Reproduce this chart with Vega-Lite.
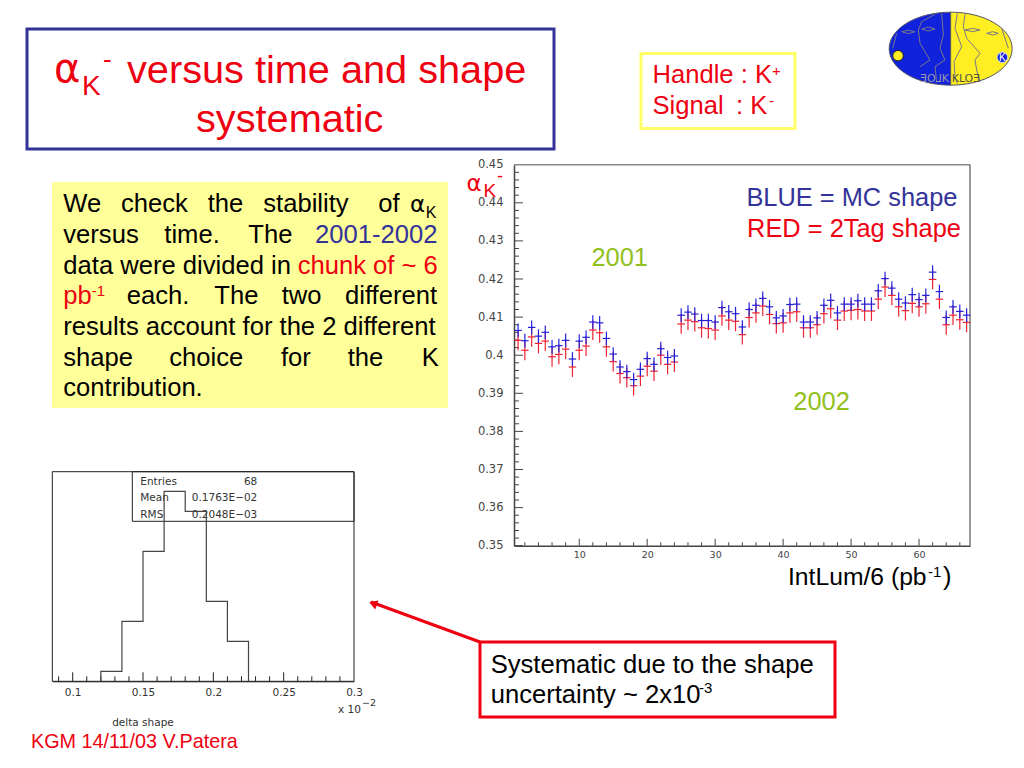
{
"$schema":"https://vega.github.io/schema/vega-lite/v6.json",
"width":1024,"height":768,"padding":0,"autosize":{"type":"none"},"background":"white",
"config":{"view":{"stroke":null},"text":{"font":"Liberation Sans","align":"left","baseline":"alphabetic"}},
"resolve":{"scale":{"x":"independent","y":"independent"},"axis":{"x":"independent","y":"independent"}},
"layer":[
{"encoding":{
 "x":{"field":"sx","type":"quantitative","scale":{"domain":[0,1024],"range":[0,1024],"nice":false,"zero":false},"axis":null},
 "y":{"field":"sy","type":"quantitative","scale":{"domain":[0,768],"range":[0,768],"nice":false,"zero":false},"axis":null}},
 "layer":[
 {"data":{"values":[{"sx":27,"sy":29,"ex":554,"ey":149}]},"mark":{"type":"rect","fill":"white","stroke":"#333399","strokeWidth":3},"encoding":{"x2":{"field":"ex"},"y2":{"field":"ey"}}},
 {"data":{"values":[{"sx":641,"sy":53.5,"ex":795,"ey":128.5}]},"mark":{"type":"rect","fill":"white","stroke":"#FFFF66","strokeWidth":3},"encoding":{"x2":{"field":"ex"},"y2":{"field":"ey"}}},
 {"data":{"values":[{"sx":52,"sy":182,"ex":448,"ey":408}]},"mark":{"type":"rect","fill":"#FFFF99"},"encoding":{"x2":{"field":"ex"},"y2":{"field":"ey"}}},
 {"data":{"values":[{"sx":480,"sy":642,"ex":835,"ey":717}]},"mark":{"type":"rect","fill":"white","stroke":"#EE0011","strokeWidth":3},"encoding":{"x2":{"field":"ex"},"y2":{"field":"ey"}}},
 {"data":{"values":[{"sx":52.3,"sy":471.7,"ex":354,"ey":681.3},{"sx":132.3,"sy":471.7,"ex":354,"ey":521.3}]},"mark":{"type":"rect","fill":null,"stroke":"#222","strokeWidth":1},"encoding":{"x2":{"field":"ex"},"y2":{"field":"ey"}}},
 {"data":{"values":[{"sx":514,"sy":164.7,"ex":970,"ey":164.7}]},"mark":{"type":"rule","stroke":"#888","strokeWidth":1.5},"encoding":{"x2":{"field":"ex"},"y2":{"field":"ey"}}},
 {"data":{"values":[{"sx":970,"sy":164.7,"ex":970,"ey":545.7}]},"mark":{"type":"rule","stroke":"#333","strokeWidth":1},"encoding":{"x2":{"field":"ex"},"y2":{"field":"ey"}}},
 {"data":{"values":[{"sx":480,"sy":642,"ex":371,"ey":602}]},"mark":{"type":"rule","stroke":"#EE0011","strokeWidth":3},"encoding":{"x2":{"field":"ex"},"y2":{"field":"ey"}}},
 {"data":{"values":[{"sx":373,"sy":603.5}]},"mark":{"type":"point","shape":"triangle-up","filled":true,"fill":"#EE0011","opacity":1,"size":90,"angle":291}},
 {"data":{"values":[{"label":"versus time and shape","sx":127,"sy":83},{"label":"systematic","sx":196,"sy":132}]},"mark":{"type":"text","fontSize":39.7,"fill":"#EE0011"},"encoding":{"text":{"field":"label"}}},
 {"data":{"values":[{"label":"α","sx":54,"sy":82}]},"mark":{"type":"text","font":"DejaVu Sans","fontSize":40,"fill":"#EE0011"},"encoding":{"text":{"field":"label"}}},
 {"data":{"values":[{"label":"K","sx":82,"sy":95}]},"mark":{"type":"text","fontSize":28,"fill":"#EE0011"},"encoding":{"text":{"field":"label"}}},
 {"data":{"values":[{"label":"-","sx":103,"sy":68}]},"mark":{"type":"text","fontSize":26,"fill":"#EE0011"},"encoding":{"text":{"field":"label"}}},
 {"data":{"values":[
  {"label":"Handle : K","sx":652.5,"sy":83.3},{"label":"Signal","sx":652.5,"sy":114},{"label":": K","sx":736,"sy":114},
  {"label":"chunk of ~ 6","sx":297.7,"sy":273.7},{"label":"pb","sx":63.3,"sy":304.3}]},"mark":{"type":"text","fontSize":25.6,"fill":"#EE0011"},"encoding":{"text":{"field":"label"}}},
 {"data":{"values":[{"label":"+","sx":772,"sy":76},{"label":"-","sx":769,"sy":106},{"label":"-1","sx":91.7,"sy":296}]},"mark":{"type":"text","fontSize":15,"fill":"#EE0011"},"encoding":{"text":{"field":"label"}}},
 {"data":{"values":[
  {"label":"We","sx":63.3,"sy":212.3},{"label":"check","sx":121,"sy":212.3},{"label":"the","sx":207.7,"sy":212.3},{"label":"stability","sx":263.3,"sy":212.3},{"label":"of","sx":378.3,"sy":212.3},
  {"label":"versus","sx":63.3,"sy":243},{"label":"time.","sx":164.3,"sy":243},{"label":"The","sx":248.3,"sy":243},
  {"label":"data were divided in","sx":63.3,"sy":273.7},
  {"label":"each.","sx":126.7,"sy":304.3},{"label":"The","sx":214.3,"sy":304.3},{"label":"two","sx":281.7,"sy":304.3},{"label":"different","sx":345,"sy":304.3},
  {"label":"results account for the 2 different","sx":63.3,"sy":335},
  {"label":"shape","sx":63.3,"sy":365.7},{"label":"choice","sx":169.3,"sy":365.7},{"label":"for","sx":281,"sy":365.7},{"label":"the","sx":347.7,"sy":365.7},{"label":"K","sx":421.7,"sy":365.7},
  {"label":"contribution.","sx":63.3,"sy":396.3},
  {"label":"Systematic due to the shape","sx":490.7,"sy":672.7},{"label":"uncertainty ~ 2x10","sx":490.7,"sy":703.3},
  {"label":")","sx":943,"sy":585}]},"mark":{"type":"text","fontSize":25.6,"fill":"#000"},"encoding":{"text":{"field":"label"}}},
 {"data":{"values":[{"label":"IntLum/6 (pb","sx":788,"sy":585}]},"mark":{"type":"text","fontSize":24.7,"fill":"#000"},"encoding":{"text":{"field":"label"}}},
 {"data":{"values":[{"label":"-3","sx":699,"sy":693},{"label":"-1","sx":928,"sy":577}]},"mark":{"type":"text","fontSize":15,"fill":"#000"},"encoding":{"text":{"field":"label"}}},
 {"data":{"values":[{"label":"α","sx":410,"sy":212.3}]},"mark":{"type":"text","font":"DejaVu Sans","fontSize":23,"fill":"#000"},"encoding":{"text":{"field":"label"}}},
 {"data":{"values":[{"label":"K","sx":425.7,"sy":218}]},"mark":{"type":"text","fontSize":16,"fill":"#000"},"encoding":{"text":{"field":"label"}}},
 {"data":{"values":[{"label":"2001-2002","sx":315,"sy":243}]},"mark":{"type":"text","fontSize":25.6,"fill":"#333399"},"encoding":{"text":{"field":"label"}}},
 {"data":{"values":[{"label":"α","sx":466.5,"sy":190.7}]},"mark":{"type":"text","font":"DejaVu Sans","fontSize":23,"fill":"#EE0011"},"encoding":{"text":{"field":"label"}}},
 {"data":{"values":[{"label":"K","sx":483.5,"sy":197}]},"mark":{"type":"text","fontSize":19,"fill":"#EE0011"},"encoding":{"text":{"field":"label"}}},
 {"data":{"values":[{"label":"-","sx":497,"sy":182}]},"mark":{"type":"text","fontSize":18,"fill":"#EE0011"},"encoding":{"text":{"field":"label"}}},
 {"data":{"values":[{"label":"KGM 14/11/03 V.Patera","sx":31,"sy":748}]},"mark":{"type":"text","fontSize":19.8,"fill":"#EE0011"},"encoding":{"text":{"field":"label"}}},
 {"data":{"values":[{"label":"Entries","sx":140.3,"sy":485},{"label":"Mean","sx":140.3,"sy":501},{"label":"RMS","sx":140.3,"sy":518},{"label":"x 10","sx":338,"sy":713}]},"mark":{"type":"text","font":"DejaVu Sans","fontSize":10.5,"fill":"#333"},"encoding":{"text":{"field":"label"}}},
 {"data":{"values":[{"label":"−2","sx":362,"sy":706}]},"mark":{"type":"text","font":"DejaVu Sans","fontSize":9.5,"fill":"#333"},"encoding":{"text":{"field":"label"}}},
 {"data":{"values":[{"label":"68","sx":257.3,"sy":485},{"label":"0.1763E−02","sx":257.3,"sy":501},{"label":"0.2048E−03","sx":257.3,"sy":518}]},"mark":{"type":"text","font":"DejaVu Sans","fontSize":10.5,"fill":"#333","align":"right"},"encoding":{"text":{"field":"label"}}},
 {"data":{"values":[{"label":"delta shape","sx":143,"sy":726}]},"mark":{"type":"text","font":"DejaVu Sans","fontSize":10.5,"fill":"#333","align":"center"},"encoding":{"text":{"field":"label"}}}
 ]},
{"encoding":{
 "x":{"field":"edge","type":"quantitative","sort":null,"scale":{"domain":[0.0855,0.3],"range":[52.3,354],"nice":false,"zero":false},
  "axis":{"orient":"bottom","offset":-86.7,"title":null,"grid":false,"ticks":false,"values":[0.1,0.15,0.2,0.25,0.3],"domainColor":"#222",
   "format":".2~f","labelFont":"DejaVu Sans","labelFontSize":10.5,"labelColor":"#333","labelPadding":6,"labelFlush":false,"labelOverlap":false}},
 "y":{"field":"count","type":"quantitative","scale":{"domain":[0,20.96],"range":[681.3,471.7],"nice":false,"zero":false},"axis":null}},
 "layer":[
 {"data":{"values":[{"edge":0.09,"count":0,"top":0.5},{"edge":0.1,"count":0,"top":0.9},{"edge":0.11,"count":0,"top":0.5},{"edge":0.12,"count":0,"top":0.5},{"edge":0.13,"count":0,"top":0.5},{"edge":0.14,"count":0,"top":0.5},{"edge":0.15,"count":0,"top":0.9},{"edge":0.16,"count":0,"top":0.5},{"edge":0.17,"count":0,"top":0.5},{"edge":0.18,"count":0,"top":0.5},{"edge":0.19,"count":0,"top":0.5},{"edge":0.2,"count":0,"top":0.9},{"edge":0.21,"count":0,"top":0.5},{"edge":0.22,"count":0,"top":0.5},{"edge":0.23,"count":0,"top":0.5},{"edge":0.24,"count":0,"top":0.5},{"edge":0.25,"count":0,"top":0.9},{"edge":0.26,"count":0,"top":0.5},{"edge":0.27,"count":0,"top":0.5},{"edge":0.28,"count":0,"top":0.5},{"edge":0.29,"count":0,"top":0.5}]},
  "mark":{"type":"rule","stroke":"#222","strokeWidth":1},"encoding":{"y2":{"field":"top"}}},
 {"data":{"values":[{"edge":0.12,"count":0},{"edge":0.12,"count":1},{"edge":0.135,"count":6},{"edge":0.15,"count":13},{"edge":0.165,"count":19},{"edge":0.18,"count":17},{"edge":0.195,"count":8},{"edge":0.21,"count":4},{"edge":0.225,"count":0}]},
 "mark":{"type":"line","interpolate":"step-after","stroke":"#444","strokeWidth":1.2}}
 ]},
{"data":{"name":"alpha","values":[
{"bin":1,"shape":"MC","alpha":0.4065,"err":0.0018},{"bin":2,"shape":"MC","alpha":0.4038,"err":0.0018},{"bin":3,"shape":"MC","alpha":0.4073,"err":0.0018},{"bin":4,"shape":"MC","alpha":0.405,"err":0.0018},{"bin":5,"shape":"MC","alpha":0.406,"err":0.0018},{"bin":6,"shape":"MC","alpha":0.4022,"err":0.0018},{"bin":7,"shape":"MC","alpha":0.4025,"err":0.0018},{"bin":8,"shape":"MC","alpha":0.4039,"err":0.0018},{"bin":9,"shape":"MC","alpha":0.399,"err":0.0018},{"bin":10,"shape":"MC","alpha":0.4037,"err":0.0018},
{"bin":11,"shape":"MC","alpha":0.4047,"err":0.0018},{"bin":12,"shape":"MC","alpha":0.4087,"err":0.0018},{"bin":13,"shape":"MC","alpha":0.4085,"err":0.0018},{"bin":14,"shape":"MC","alpha":0.4044,"err":0.0018},{"bin":15,"shape":"MC","alpha":0.4003,"err":0.0018},{"bin":16,"shape":"MC","alpha":0.3969,"err":0.0018},{"bin":17,"shape":"MC","alpha":0.3957,"err":0.0018},{"bin":18,"shape":"MC","alpha":0.3936,"err":0.0018},{"bin":19,"shape":"MC","alpha":0.3963,"err":0.0018},{"bin":20,"shape":"MC","alpha":0.3991,"err":0.0018},
{"bin":21,"shape":"MC","alpha":0.3976,"err":0.0018},{"bin":22,"shape":"MC","alpha":0.4017,"err":0.0018},{"bin":23,"shape":"MC","alpha":0.3994,"err":0.0018},{"bin":24,"shape":"MC","alpha":0.3998,"err":0.0018},{"bin":25,"shape":"MC","alpha":0.4105,"err":0.0018},{"bin":26,"shape":"MC","alpha":0.4113,"err":0.0018},{"bin":27,"shape":"MC","alpha":0.4108,"err":0.0018},{"bin":28,"shape":"MC","alpha":0.4091,"err":0.0018},{"bin":29,"shape":"MC","alpha":0.4091,"err":0.0018},{"bin":30,"shape":"MC","alpha":0.4087,"err":0.0018},
{"bin":31,"shape":"MC","alpha":0.4125,"err":0.0018},{"bin":32,"shape":"MC","alpha":0.4114,"err":0.0018},{"bin":33,"shape":"MC","alpha":0.4109,"err":0.0018},{"bin":34,"shape":"MC","alpha":0.4074,"err":0.0018},{"bin":35,"shape":"MC","alpha":0.412,"err":0.0018},{"bin":36,"shape":"MC","alpha":0.4131,"err":0.0018},{"bin":37,"shape":"MC","alpha":0.4149,"err":0.0018},{"bin":38,"shape":"MC","alpha":0.4127,"err":0.0018},{"bin":39,"shape":"MC","alpha":0.4098,"err":0.0018},{"bin":40,"shape":"MC","alpha":0.4103,"err":0.0018},
{"bin":41,"shape":"MC","alpha":0.4133,"err":0.0018},{"bin":42,"shape":"MC","alpha":0.4134,"err":0.0018},{"bin":43,"shape":"MC","alpha":0.4087,"err":0.0018},{"bin":44,"shape":"MC","alpha":0.4087,"err":0.0018},{"bin":45,"shape":"MC","alpha":0.4098,"err":0.0018},{"bin":46,"shape":"MC","alpha":0.4131,"err":0.0018},{"bin":47,"shape":"MC","alpha":0.4144,"err":0.0018},{"bin":48,"shape":"MC","alpha":0.4111,"err":0.0018},{"bin":49,"shape":"MC","alpha":0.4134,"err":0.0018},{"bin":50,"shape":"MC","alpha":0.4134,"err":0.0018},
{"bin":51,"shape":"MC","alpha":0.4143,"err":0.0018},{"bin":52,"shape":"MC","alpha":0.4134,"err":0.0018},{"bin":53,"shape":"MC","alpha":0.4134,"err":0.0018},{"bin":54,"shape":"MC","alpha":0.4169,"err":0.0018},{"bin":55,"shape":"MC","alpha":0.4201,"err":0.0018},{"bin":56,"shape":"MC","alpha":0.4176,"err":0.0018},{"bin":57,"shape":"MC","alpha":0.4147,"err":0.0018},{"bin":58,"shape":"MC","alpha":0.4137,"err":0.0018},{"bin":59,"shape":"MC","alpha":0.4159,"err":0.0018},{"bin":60,"shape":"MC","alpha":0.4146,"err":0.0018},
{"bin":61,"shape":"MC","alpha":0.4157,"err":0.0018},{"bin":62,"shape":"MC","alpha":0.4218,"err":0.0018},{"bin":63,"shape":"MC","alpha":0.4167,"err":0.0018},{"bin":64,"shape":"MC","alpha":0.4099,"err":0.0018},{"bin":65,"shape":"MC","alpha":0.4127,"err":0.0018},{"bin":66,"shape":"MC","alpha":0.4115,"err":0.0018},{"bin":67,"shape":"MC","alpha":0.4105,"err":0.0018},
{"bin":1,"shape":"2Tag","alpha":0.4039,"err":0.0026},{"bin":2,"shape":"2Tag","alpha":0.4013,"err":0.0026},{"bin":3,"shape":"2Tag","alpha":0.4048,"err":0.0026},{"bin":4,"shape":"2Tag","alpha":0.4031,"err":0.0026},{"bin":5,"shape":"2Tag","alpha":0.4037,"err":0.0026},{"bin":6,"shape":"2Tag","alpha":0.3996,"err":0.0026},{"bin":7,"shape":"2Tag","alpha":0.4002,"err":0.0026},{"bin":8,"shape":"2Tag","alpha":0.4016,"err":0.0026},{"bin":9,"shape":"2Tag","alpha":0.3969,"err":0.0026},{"bin":10,"shape":"2Tag","alpha":0.4013,"err":0.0026},
{"bin":11,"shape":"2Tag","alpha":0.4024,"err":0.0026},{"bin":12,"shape":"2Tag","alpha":0.4066,"err":0.0026},{"bin":13,"shape":"2Tag","alpha":0.4059,"err":0.0026},{"bin":14,"shape":"2Tag","alpha":0.4022,"err":0.0026},{"bin":15,"shape":"2Tag","alpha":0.3983,"err":0.0026},{"bin":16,"shape":"2Tag","alpha":0.3952,"err":0.0026},{"bin":17,"shape":"2Tag","alpha":0.3941,"err":0.0026},{"bin":18,"shape":"2Tag","alpha":0.392,"err":0.0026},{"bin":19,"shape":"2Tag","alpha":0.3945,"err":0.0026},{"bin":20,"shape":"2Tag","alpha":0.3971,"err":0.0026},
{"bin":21,"shape":"2Tag","alpha":0.3958,"err":0.0026},{"bin":22,"shape":"2Tag","alpha":0.4,"err":0.0026},{"bin":23,"shape":"2Tag","alpha":0.3976,"err":0.0026},{"bin":24,"shape":"2Tag","alpha":0.3982,"err":0.0026},{"bin":25,"shape":"2Tag","alpha":0.4082,"err":0.0026},{"bin":26,"shape":"2Tag","alpha":0.4092,"err":0.0026},{"bin":27,"shape":"2Tag","alpha":0.4088,"err":0.0026},{"bin":28,"shape":"2Tag","alpha":0.4072,"err":0.0026},{"bin":29,"shape":"2Tag","alpha":0.407,"err":0.0026},{"bin":30,"shape":"2Tag","alpha":0.4066,"err":0.0026},
{"bin":31,"shape":"2Tag","alpha":0.4103,"err":0.0026},{"bin":32,"shape":"2Tag","alpha":0.4092,"err":0.0026},{"bin":33,"shape":"2Tag","alpha":0.4089,"err":0.0026},{"bin":34,"shape":"2Tag","alpha":0.4054,"err":0.0026},{"bin":35,"shape":"2Tag","alpha":0.4099,"err":0.0026},{"bin":36,"shape":"2Tag","alpha":0.4111,"err":0.0026},{"bin":37,"shape":"2Tag","alpha":0.4129,"err":0.0026},{"bin":38,"shape":"2Tag","alpha":0.4107,"err":0.0026},{"bin":39,"shape":"2Tag","alpha":0.4083,"err":0.0026},{"bin":40,"shape":"2Tag","alpha":0.4085,"err":0.0026},
{"bin":41,"shape":"2Tag","alpha":0.4111,"err":0.0026},{"bin":42,"shape":"2Tag","alpha":0.4114,"err":0.0026},{"bin":43,"shape":"2Tag","alpha":0.4072,"err":0.0026},{"bin":44,"shape":"2Tag","alpha":0.4072,"err":0.0026},{"bin":45,"shape":"2Tag","alpha":0.408,"err":0.0026},{"bin":46,"shape":"2Tag","alpha":0.4109,"err":0.0026},{"bin":47,"shape":"2Tag","alpha":0.4122,"err":0.0026},{"bin":48,"shape":"2Tag","alpha":0.4092,"err":0.0026},{"bin":49,"shape":"2Tag","alpha":0.4116,"err":0.0026},{"bin":50,"shape":"2Tag","alpha":0.4118,"err":0.0026},
{"bin":51,"shape":"2Tag","alpha":0.412,"err":0.0026},{"bin":52,"shape":"2Tag","alpha":0.4116,"err":0.0026},{"bin":53,"shape":"2Tag","alpha":0.4116,"err":0.0026},{"bin":54,"shape":"2Tag","alpha":0.4147,"err":0.0026},{"bin":55,"shape":"2Tag","alpha":0.4179,"err":0.0026},{"bin":56,"shape":"2Tag","alpha":0.4157,"err":0.0026},{"bin":57,"shape":"2Tag","alpha":0.4127,"err":0.0026},{"bin":58,"shape":"2Tag","alpha":0.4117,"err":0.0026},{"bin":59,"shape":"2Tag","alpha":0.4136,"err":0.0026},{"bin":60,"shape":"2Tag","alpha":0.4127,"err":0.0026},
{"bin":61,"shape":"2Tag","alpha":0.4135,"err":0.0026},{"bin":62,"shape":"2Tag","alpha":0.4199,"err":0.0026},{"bin":63,"shape":"2Tag","alpha":0.4147,"err":0.0026},{"bin":64,"shape":"2Tag","alpha":0.408,"err":0.0026},{"bin":65,"shape":"2Tag","alpha":0.4105,"err":0.0026},{"bin":66,"shape":"2Tag","alpha":0.4093,"err":0.0026},{"bin":67,"shape":"2Tag","alpha":0.4086,"err":0.0026}
]},
 "encoding":{
 "x":{"field":"bin","type":"quantitative","title":null,"scale":{"domain":[0.4,67.5],"range":[514,970],"nice":false,"zero":false},
  "axis":{"orient":"bottom","offset":-222.3,"title":null,"grid":false,"ticks":false,"values":[10,20,30,40,50,60],
   "domainColor":"#444","domainWidth":1.5,
   "format":"d","labelFont":"DejaVu Sans","labelFontSize":9.5,"labelColor":"#444","labelPadding":4,"labelFlush":false,"labelOverlap":false}},
 "y":{"field":"alpha","type":"quantitative","title":null,"scale":{"domain":[0.35,0.45],"range":[545.7,164.7],"nice":false,"zero":false},
  "axis":{"orient":"left","offset":-514,"title":null,"grid":false,"ticks":false,"values":[0.35,0.36,0.37,0.38,0.39,0.4,0.41,0.42,0.43,0.44,0.45],
   "domainColor":"#444","domainWidth":1.5,
   "format":".2~f","labelFont":"DejaVu Sans","labelFontSize":11.5,"labelColor":"#444","labelPadding":11,"labelFlush":false,"labelOverlap":false}},
 "color":{"field":"shape","type":"nominal","legend":null,"scale":{"domain":["MC","2Tag"],"range":["#2222DD","#EE2233"]}}},
 "layer":[
 {"data":{"values":[{"bin":2,"alpha":0.35,"top":0.3509},{"bin":4,"alpha":0.35,"top":0.3509},{"bin":6,"alpha":0.35,"top":0.3509},{"bin":8,"alpha":0.35,"top":0.3509},{"bin":10,"alpha":0.35,"top":0.3518},{"bin":12,"alpha":0.35,"top":0.3509},{"bin":14,"alpha":0.35,"top":0.3509},{"bin":16,"alpha":0.35,"top":0.3509},{"bin":18,"alpha":0.35,"top":0.3509},{"bin":20,"alpha":0.35,"top":0.3518},{"bin":22,"alpha":0.35,"top":0.3509},{"bin":24,"alpha":0.35,"top":0.3509},{"bin":26,"alpha":0.35,"top":0.3509},{"bin":28,"alpha":0.35,"top":0.3509},{"bin":30,"alpha":0.35,"top":0.3518},{"bin":32,"alpha":0.35,"top":0.3509},{"bin":34,"alpha":0.35,"top":0.3509},{"bin":36,"alpha":0.35,"top":0.3509},{"bin":38,"alpha":0.35,"top":0.3509},{"bin":40,"alpha":0.35,"top":0.3518},{"bin":42,"alpha":0.35,"top":0.3509},{"bin":44,"alpha":0.35,"top":0.3509},{"bin":46,"alpha":0.35,"top":0.3509},{"bin":48,"alpha":0.35,"top":0.3509},{"bin":50,"alpha":0.35,"top":0.3518},{"bin":52,"alpha":0.35,"top":0.3509},{"bin":54,"alpha":0.35,"top":0.3509},{"bin":56,"alpha":0.35,"top":0.3509},{"bin":58,"alpha":0.35,"top":0.3509},{"bin":60,"alpha":0.35,"top":0.3518},{"bin":62,"alpha":0.35,"top":0.3509},{"bin":64,"alpha":0.35,"top":0.3509},{"bin":66,"alpha":0.35,"top":0.3509}]},
  "mark":{"type":"rule","strokeWidth":1},"encoding":{"y2":{"field":"top"},"color":{"value":"#444"}}},
 {"data":{"values":[{"alpha":0.35,"bin":0.4,"end":1.72},{"alpha":0.352,"bin":0.4,"end":1.14},{"alpha":0.354,"bin":0.4,"end":1.14},{"alpha":0.356,"bin":0.4,"end":1.14},{"alpha":0.358,"bin":0.4,"end":1.14},{"alpha":0.36,"bin":0.4,"end":1.72},{"alpha":0.362,"bin":0.4,"end":1.14},{"alpha":0.364,"bin":0.4,"end":1.14},{"alpha":0.366,"bin":0.4,"end":1.14},{"alpha":0.368,"bin":0.4,"end":1.14},{"alpha":0.37,"bin":0.4,"end":1.72},{"alpha":0.372,"bin":0.4,"end":1.14},{"alpha":0.374,"bin":0.4,"end":1.14},{"alpha":0.376,"bin":0.4,"end":1.14},{"alpha":0.378,"bin":0.4,"end":1.14},{"alpha":0.38,"bin":0.4,"end":1.72},{"alpha":0.382,"bin":0.4,"end":1.14},{"alpha":0.384,"bin":0.4,"end":1.14},{"alpha":0.386,"bin":0.4,"end":1.14},{"alpha":0.388,"bin":0.4,"end":1.14},{"alpha":0.39,"bin":0.4,"end":1.72},{"alpha":0.392,"bin":0.4,"end":1.14},{"alpha":0.394,"bin":0.4,"end":1.14},{"alpha":0.396,"bin":0.4,"end":1.14},{"alpha":0.398,"bin":0.4,"end":1.14},{"alpha":0.4,"bin":0.4,"end":1.72},{"alpha":0.402,"bin":0.4,"end":1.14},{"alpha":0.404,"bin":0.4,"end":1.14},{"alpha":0.406,"bin":0.4,"end":1.14},{"alpha":0.408,"bin":0.4,"end":1.14},{"alpha":0.41,"bin":0.4,"end":1.72},{"alpha":0.412,"bin":0.4,"end":1.14},{"alpha":0.414,"bin":0.4,"end":1.14},{"alpha":0.416,"bin":0.4,"end":1.14},{"alpha":0.418,"bin":0.4,"end":1.14},{"alpha":0.42,"bin":0.4,"end":1.72},{"alpha":0.422,"bin":0.4,"end":1.14},{"alpha":0.424,"bin":0.4,"end":1.14},{"alpha":0.426,"bin":0.4,"end":1.14},{"alpha":0.428,"bin":0.4,"end":1.14},{"alpha":0.43,"bin":0.4,"end":1.72},{"alpha":0.432,"bin":0.4,"end":1.14},{"alpha":0.434,"bin":0.4,"end":1.14},{"alpha":0.436,"bin":0.4,"end":1.14},{"alpha":0.438,"bin":0.4,"end":1.14},{"alpha":0.44,"bin":0.4,"end":1.72},{"alpha":0.442,"bin":0.4,"end":1.14},{"alpha":0.444,"bin":0.4,"end":1.14},{"alpha":0.446,"bin":0.4,"end":1.14},{"alpha":0.448,"bin":0.4,"end":1.14}]},
  "mark":{"type":"rule","strokeWidth":1},"encoding":{"x2":{"field":"end"},"color":{"value":"#444"}}},
 {"transform":[{"filter":"datum.shape=='2Tag'"}],"mark":{"type":"errorbar","ticks":false,"rule":{"strokeWidth":1.2}}, "encoding":{"yError":{"field":"err"}}},
 {"transform":[{"filter":"datum.shape=='2Tag'"}],"mark":{"type":"tick","orient":"horizontal","size":7.5,"thickness":1.2,"opacity":1}},
 {"transform":[{"filter":"datum.shape=='MC'"}],"mark":{"type":"errorbar","ticks":false,"rule":{"strokeWidth":1.2}}, "encoding":{"yError":{"field":"err"}}},
 {"transform":[{"filter":"datum.shape=='MC'"}],"mark":{"type":"tick","orient":"horizontal","size":7.5,"thickness":1.2,"opacity":1}},
 {"data":{"values":[{"note":"2001","bin":11.8,"alpha":0.4235},{"note":"2002","bin":41.5,"alpha":0.3856}]},"mark":{"type":"text","fontSize":25.4,"fill":"#92C01C"},"encoding":{"text":{"field":"note"},"color":{"value":"#92C01C"}}},
 {"data":{"values":[{"note":"BLUE = MC shape","bin":34.6,"alpha":0.4392}]},"mark":{"type":"text","fontSize":25.4,"fill":"#333399"},"encoding":{"text":{"field":"note"},"color":{"value":"#333399"}}},
 {"data":{"values":[{"note":"RED = 2Tag shape","bin":34.7,"alpha":0.4309}]},"mark":{"type":"text","fontSize":25.4,"fill":"#EE0011"},"encoding":{"text":{"field":"note"},"color":{"value":"#EE0011"}}}
 ]},
{"encoding":{
 "x":{"field":"lx","type":"quantitative","scale":{"domain":[0,420],"range":[880,1020],"nice":false,"zero":false},"axis":null},
 "y":{"field":"ly","type":"quantitative","scale":{"domain":[0,285],"range":[5,100],"nice":false,"zero":false},"axis":null}},
 "layer":[
 {"data":{"values":[{"lx":212,"ly":131}]},"mark":{"type":"point","shape":"M0,-0.5935A1,0.5935 0 0 0 0,0.5935Z","filled":true,"fill":"#1122DD","stroke":"#556","strokeWidth":1,"opacity":1,"size":15129}},
 {"data":{"values":[{"lx":212,"ly":131}]},"mark":{"type":"point","shape":"M0,-0.5935A1,0.5935 0 0 1 0,0.5935Z","filled":true,"fill":"#FFEE22","stroke":"#556","strokeWidth":1,"opacity":1,"size":15129}},
 {"data":{"values":[
  {"part":"a","lx":185,"ly":25},{"part":"a","lx":190,"ly":90},{"part":"a","lx":180,"ly":130},{"part":"a","lx":195,"ly":165},{"part":"a","lx":165,"ly":185},{"part":"a","lx":170,"ly":232},
  {"part":"b","lx":165,"ly":28},{"part":"b","lx":125,"ly":50},{"part":"b","lx":115,"ly":75},{"part":"b","lx":120,"ly":115},{"part":"b","lx":150,"ly":165},{"part":"b","lx":120,"ly":185},
  {"part":"c","lx":65,"ly":80},{"part":"c","lx":85,"ly":76},{"part":"c","lx":105,"ly":80},{"part":"c","lx":85,"ly":86},{"part":"c","lx":65,"ly":80},
  {"part":"d","lx":125,"ly":72},{"part":"d","lx":145,"ly":66},{"part":"d","lx":165,"ly":72},{"part":"d","lx":145,"ly":78},{"part":"d","lx":125,"ly":72},
  {"part":"e","lx":232,"ly":25},{"part":"e","lx":225,"ly":70},{"part":"e","lx":245,"ly":125},{"part":"e","lx":222,"ly":170},{"part":"e","lx":225,"ly":215},{"part":"e","lx":232,"ly":235},
  {"part":"f","lx":255,"ly":28},{"part":"f","lx":250,"ly":65},{"part":"f","lx":260,"ly":100},{"part":"f","lx":300,"ly":145},{"part":"f","lx":285,"ly":165},{"part":"f","lx":290,"ly":195},{"part":"f","lx":300,"ly":232},
  {"part":"g","lx":255,"ly":75},{"part":"g","lx":278,"ly":70},{"part":"g","lx":300,"ly":75},{"part":"g","lx":278,"ly":80},{"part":"g","lx":255,"ly":75},
  {"part":"h","lx":320,"ly":85},{"part":"h","lx":338,"ly":80},{"part":"h","lx":355,"ly":85},{"part":"h","lx":338,"ly":90},{"part":"h","lx":320,"ly":85},
  {"part":"i","lx":365,"ly":70},{"part":"i","lx":385,"ly":130},
  {"part":"j","lx":50,"ly":85},{"part":"j","lx":38,"ly":130}]},
  "mark":{"type":"line","stroke":"#778","strokeWidth":1},"encoding":{"detail":{"field":"part"},"order":{"field":"seq"}}},
 {"data":{"values":[{"lx":54,"ly":152}]},"mark":{"type":"point","shape":"circle","filled":true,"fill":"#FFEE22","stroke":"#222","strokeWidth":1,"opacity":1,"size":110}},
 {"data":{"values":[{"lx":367,"ly":157}]},"mark":{"type":"point","shape":"circle","filled":true,"fill":"#1122DD","stroke":"#ddd","strokeWidth":1,"opacity":1,"size":110}},
 {"data":{"values":[{"label":"K","lx":367,"ly":167}]},"mark":{"type":"text","fontSize":10,"fill":"white","align":"center"},"encoding":{"text":{"field":"label"}}},
 {"data":{"values":[{"label":"KLOƎ","lx":215,"ly":230}]},"mark":{"type":"text","font":"DejaVu Sans","fontSize":11,"fill":"#554"},"encoding":{"text":{"field":"label"}}},
 {"data":{"values":[{"label":"ƎO⅃K","lx":207,"ly":230}]},"mark":{"type":"text","font":"DejaVu Sans","fontSize":11,"fill":"#99A","align":"right"},"encoding":{"text":{"field":"label"}}}
 ]}
]}
